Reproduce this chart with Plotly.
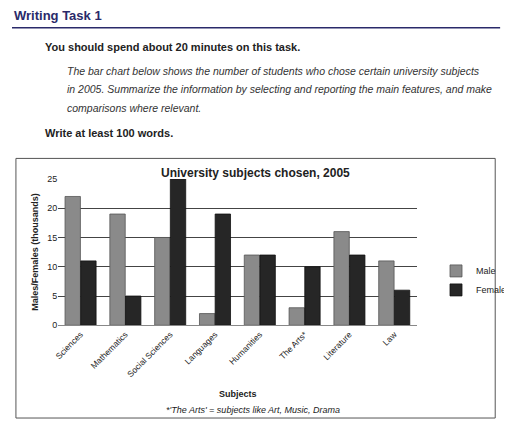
import plotly.graph_objects as go

subjects = ["Sciences", "Mathematics", "Social Sciences", "Languages", "Humanities", "The Arts*", "Literature", "Law"]
male = [22, 19, 15, 2, 12, 3, 16, 11]
female = [11, 5, 25, 19, 12, 10, 12, 6]
y_ticks = [0, 5, 10, 15, 20, 25]

OFF = 8
W, H = 512 - OFF, 424 - OFF
def py(p):
    return 1 - (p - OFF) / H
def px(p):
    return (p - OFF) / W

fig = go.Figure()
fig.add_bar(x=subjects, y=male, name="Male", marker=dict(color="#8a8a8a", line=dict(color="#555", width=0.8)))
fig.add_bar(x=subjects, y=female, name="Female", marker=dict(color="#262626", line=dict(color="#111", width=0.8)))

F = "Liberation Sans"
ann = []
def t(x, y, s, size, bold=False, italic=False, anchor="left", color="#222", angle=0):
    if bold: s = "<b>" + s + "</b>"
    if italic: s = "<i>" + s + "</i>"
    ann.append(dict(x=px(x), y=py(y), xref="paper", yref="paper", text=s, showarrow=False,
                    xanchor=anchor, yanchor="middle", textangle=angle,
                    font=dict(family=F, size=size, color=color)))

t(8, 11, "Writing Task 1", 13, bold=True, color="#2a2a6a")
t(40, 43, "You should spend about 20 minutes on this task.", 11, bold=True)
t(62, 67, "The bar chart below shows the number of students who chose certain university subjects", 10.5, italic=True, color="#333")
t(62, 86, "in 2005. Summarize the information by selecting and reporting the main features, and make", 10.5, italic=True, color="#333")
t(62, 105, "comparisons where relevant.", 10.5, italic=True, color="#333")
t(40, 131, "Write at least 100 words.", 11, bold=True)
t(256, 172, "University subjects chosen, 2005", 12, bold=True, anchor="center")
t(238, 398, "Subjects", 9, bold=True, anchor="center")
t(253, 415, "*'The Arts' = subjects like Art, Music, Drama", 9, italic=True, anchor="center")

shapes = [
    dict(type="line", xref="paper", yref="paper", x0=0, x1=px(505), y0=py(23), y1=py(23), line=dict(color="#2a2a6a", width=1.5)),
    dict(type="rect", xref="paper", yref="paper", x0=px(12), x1=px(500), y0=py(157), y1=py(423), line=dict(color="#555", width=1)),
]

fig.update_layout(
    width=W, height=H, margin=dict(l=0, r=0, t=0, b=0),
    paper_bgcolor="white", plot_bgcolor="white",
    barmode="group", bargap=0.3, bargroupgap=0.02,
    annotations=ann, shapes=shapes,
    font=dict(family=F, size=9, color="#222"),
    xaxis=dict(domain=[px(55), px(420)], tickangle=-45, tickfont=dict(size=8.5), showline=True, linecolor="#888", anchor="y"),
    yaxis=dict(domain=[py(328), py(178)], range=[0, 25], tickvals=y_ticks, showgrid=True, gridcolor="#444", gridwidth=1,
               title=dict(text="<b>Males/Females (thousands)</b>", font=dict(size=9), standoff=6), tickfont=dict(size=9)),
    legend=dict(x=px(440), y=py(282), xanchor="left", yanchor="middle", font=dict(size=9),
                bgcolor="rgba(0,0,0,0)", itemwidth=30),
    showlegend=True,
)
fig.write_html("out.html")
